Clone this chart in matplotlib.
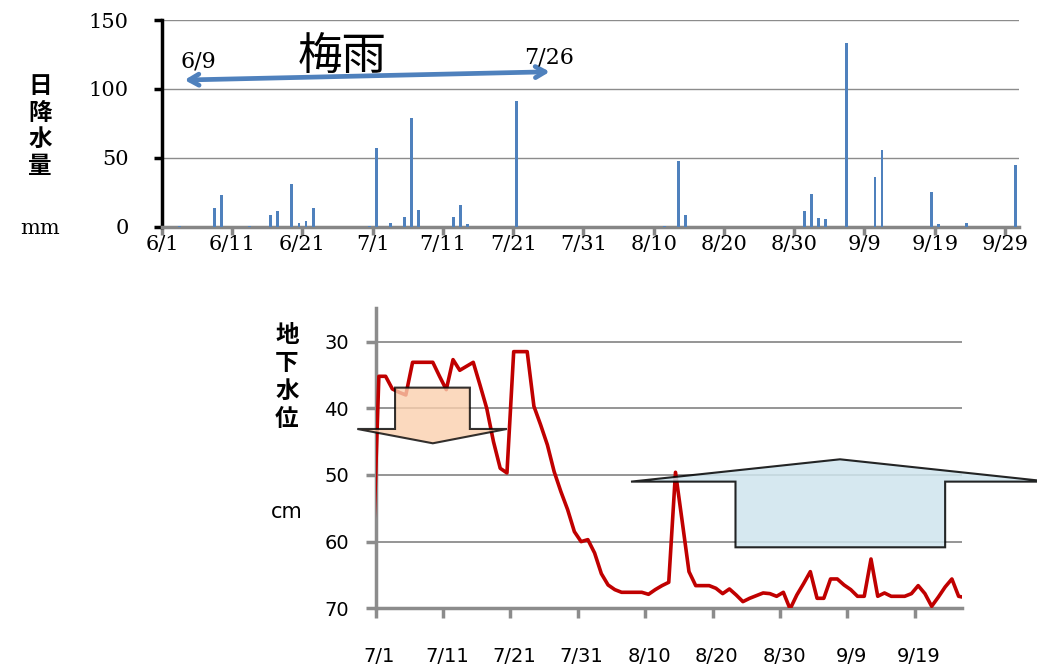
import numpy as np
import matplotlib
matplotlib.use("Agg")
import matplotlib.pyplot as plt
from matplotlib.patches import Polygon
import matplotlib.transforms as mtransforms

# daily rainfall, day index counted from 6/1 (0) to 9/30 (121)
rain_day = [2, 7, 8, 12, 15, 16, 18, 19, 20, 21, 29, 30, 32, 34, 35, 36,
            41, 42, 43, 50, 71, 73, 74, 91, 92, 93, 94, 97, 101, 102,
            109, 110, 114, 121]
rain_mm = [1, 14, 23.4, 1, 9, 11.5, 31.5, 3, 4, 14, 1, 57, 3, 7, 79, 12.5,
           7.5, 16, 2, 91, 1, 48, 8.5, 11.3, 24.2, 6.3, 5.5, 133.4, 36, 56,
           25.6, 2.4, 3, 45]
n_rain = 122
rain_ticks = ["6/1", "6/11", "6/21", "7/1", "7/11", "7/21", "7/31",
              "8/10", "8/20", "8/30", "9/9", "9/19", "9/29"]

# groundwater level (cm below surface), daily from 6/30 (day -1 relative to 7/1)
gw_first_day = -1
gw_cm = [66, 35.2, 35.2, 37.1, 37.6, 38, 33.1, 33.1, 33.1, 33.1, 35.2,
         37.2, 32.7, 34.3, 33.7, 33.1, 36.5, 40, 45, 49, 49.7,
         31.5, 31.5, 31.5, 39.7, 42.5, 45.5, 49.5, 52.5, 55.2, 58.5,
         60.0, 59.7, 61.7, 64.8, 66.5, 67.2, 67.6, 67.6, 67.6, 67.6,
         67.9, 67.2, 66.6, 66.1, 49.6, 57, 64.5, 66.6, 66.6, 66.6,
         67, 67.8, 67.1, 68, 69, 68.5, 68.1, 67.7, 67.8, 68.2,
         67.6, 70.1, 68, 66.3, 64.5, 68.5, 68.5, 65.6, 65.6, 66.5,
         67.2, 68.2, 68.2, 62.6, 68.2, 67.7, 68.2, 68.2, 68.2, 67.8,
         66.6, 67.8, 69.7, 68.3, 66.8, 65.6, 68.2, 68.4]
gw_ticks = ["7/1", "7/11", "7/21", "7/31", "8/10", "8/20", "8/30", "9/9", "9/19"]

W, H = 1037, 666
jp = ["Noto Sans CJK JP", "DejaVu Sans"]
serif = "DejaVu Serif"
grid_c = "#8c8c8c"

fig = plt.figure(figsize=(W / 100, H / 100), dpi=100)

def px(x, y):
    return x / W, 1 - y / H

# ---- top: rainfall bars
ax1 = fig.add_axes([162 / W, 1 - 227 / H, (1019 - 162) / W, (227 - 20) / H])
rain = np.zeros(n_rain)
rain[rain_day] = rain_mm
ax1.bar(np.arange(n_rain) + 0.5, rain, width=0.42, color="#4F81BD", zorder=3)
ax1.set_xlim(0, n_rain)
ax1.set_ylim(0, 150)
ax1.set_yticks([0, 50, 100, 150])
ax1.set_xticks(np.arange(0, 121, 10))
ax1.set_xticklabels(rain_ticks)
ax1.grid(axis="y", color=grid_c, lw=1)
ax1.set_axisbelow(True)
for s in ["top", "right"]:
    ax1.spines[s].set_visible(False)
ax1.spines["left"].set_color("black")
ax1.spines["left"].set_linewidth(2.5)
ax1.spines["bottom"].set_color("#868686")
ax1.spines["bottom"].set_linewidth(2.5)
ax1.tick_params(axis="y", direction="out", length=6, width=2.5, color="black",
                pad=18, labelsize=15)
ax1.tick_params(axis="x", direction="out", length=6, width=2.5, color="#868686",
                pad=0, labelsize=15)
for t in ax1.get_xticklabels() + ax1.get_yticklabels():
    t.set_fontfamily(serif)

fig.text(*px(40, 126), "日\n降\n水\n量", family=jp, fontsize=17, fontweight="bold",
         ha="center", va="center", linespacing=1.15)
fig.text(*px(40, 229), "mm", family=serif, fontsize=15, ha="center", va="center")

# rainy season arrow
ax1.annotate("", xy=(3.2, 106.5), xytext=(55.2, 112.5),
             arrowprops=dict(arrowstyle="<->,head_length=0.7,head_width=0.4",
                             color="#4F81BD", lw=3.4, shrinkA=0, shrinkB=0),
             annotation_clip=False)
fig.text(*px(198, 61), "6/9", family=serif, fontsize=16, ha="center", va="center")
fig.text(*px(549, 57), "7/26", family=serif, fontsize=16, ha="center", va="center")
fig.text(*px(342, 57), "梅雨", family=jp, fontsize=32, ha="center", va="center")

# ---- bottom: groundwater level
ax2 = fig.add_axes([375.5 / W, 1 - 608.3 / H, (962 - 375.5) / W, (608.3 - 308.3) / H])
gx = gw_first_day + np.arange(len(gw_cm)) + 0.5
ax2.plot(gx, gw_cm, color="#C00000", lw=2.6, zorder=3, solid_joinstyle="round")
ax2.set_xlim(0, 87)
ax2.set_ylim(70, 25)
ax2.set_yticks([30, 40, 50, 60, 70])
ax2.set_xticks(np.arange(0, 81, 10))
ax2.set_xticklabels(gw_ticks)
ax2.grid(axis="y", color=grid_c, lw=1.3)
ax2.set_axisbelow(True)
for s in ["top", "right"]:
    ax2.spines[s].set_visible(False)
for s in ["left", "bottom"]:
    ax2.spines[s].set_color(grid_c)
    ax2.spines[s].set_linewidth(2.5)
ax2.tick_params(axis="both", direction="out", length=7, width=2.5, color=grid_c,
                labelsize=14)
ax2.tick_params(axis="x", pad=21)
ax2.tick_params(axis="y", pad=12)
offset = mtransforms.ScaledTranslation(4 / 100, 0, fig.dpi_scale_trans)
for t in ax2.get_xticklabels():
    t.set_transform(t.get_transform() + offset)

fig.text(*px(287, 377), "地\n下\n水\n位", family=jp, fontsize=17, fontweight="bold",
         ha="center", va="center", linespacing=1.2)
fig.text(*px(287, 512), "cm", family="DejaVu Sans", fontsize=15, ha="center", va="center")

# block arrows: falling level (rainy season) and rising level
down_arrow = [(-2.7, 43.1), (2.9, 43.1), (2.9, 36.9), (14.0, 36.9), (14.0, 43.1),
              (19.5, 43.1), (8.5, 45.25)]
up_arrow = [(37.9, 51.0), (53.4, 51.0), (53.4, 60.85), (84.5, 60.85), (84.5, 51.0),
            (99.9, 51.0), (68.9, 47.65)]
ax2.add_patch(Polygon(down_arrow, closed=True, facecolor="#FBD0AE", alpha=0.8,
                      edgecolor="black", lw=1.5, zorder=4, clip_on=False))
ax2.add_patch(Polygon(up_arrow, closed=True, facecolor="#CFE5EE", alpha=0.85,
                      edgecolor="black", lw=1.5, zorder=4, clip_on=False))

fig.savefig("out.png", dpi=100)
